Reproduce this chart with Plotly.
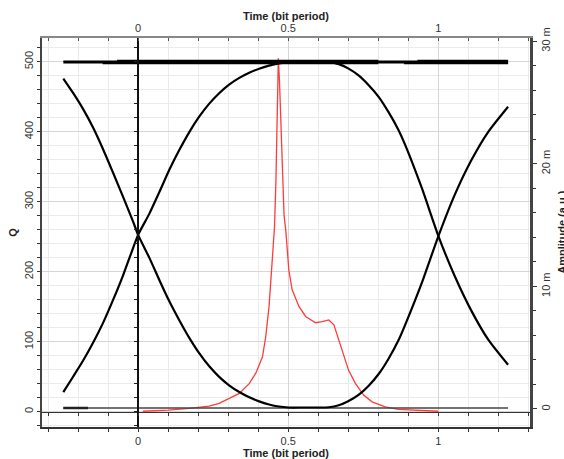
import plotly.graph_objects as go

# ---- Eye traces (amplitude, in milli a.u.) ----
eye_t = [-0.249, -0.216, -0.183, -0.150, -0.117, -0.084, -0.050, -0.017, 0.0,
         0.038, 0.071, 0.104, 0.138, 0.171, 0.204, 0.237, 0.270, 0.303, 0.337,
         0.370, 0.403, 0.436, 0.469, 0.500, 0.550, 0.600, 0.635, 0.668, 0.701,
         0.734, 0.768, 0.801, 0.834, 0.867, 0.890, 0.945, 1.000, 1.055, 1.110,
         1.166, 1.232]

# Trace that starts high, drops through the first crossing, sits low, then rises again
eye_a_v = [26.94, 25.75, 24.45, 22.95, 21.2, 19.3, 17.3, 15.3, 14.2,
           12.3, 10.5, 8.78, 7.2, 5.78, 4.53, 3.48, 2.62, 1.93, 1.38,
           0.95, 0.62, 0.37, 0.2, 0.12, 0.12, 0.12, 0.14, 0.3, 0.65,
           1.15, 1.9, 2.85, 4.1, 5.6, 6.9, 10.3, 14.1, 17.5, 20.3,
           22.6, 24.65]

# Trace that starts low, rises through the first crossing, sits high, then falls again
eye_b_v = [1.38, 2.65, 3.95, 5.4, 7.0, 8.85, 10.9, 13.1, 14.2,
           15.95, 17.7, 19.5, 21.15, 22.6, 23.85, 24.9, 25.75, 26.45, 27.0,
           27.42, 27.75, 28.0, 28.18, 28.28, 28.3, 28.3, 28.28, 28.12, 27.75,
           27.2, 26.4, 25.45, 24.2, 22.75, 21.5, 18.0, 14.1, 10.8, 8.0,
           5.65, 3.6]

# Constant "ones" and "zeros" rails
rail_hi_t = [-0.249, 1.232]
rail_hi_v = [28.3, 28.3]
rail_hi2_t = [-0.118, 0.80, None, 0.885, 1.232]
rail_hi2_v = [28.2, 28.2, None, 28.2, 28.2]
rail_hi3_t = [-0.07, 0.80, None, 0.93, 1.232]
rail_hi3_v = [28.4, 28.4, None, 28.4, 28.4]
rail_lo_t = [-0.249, 1.232]
rail_lo_v = [0.08, 0.08]
rail_lo2_t = [-0.249, -0.167]
rail_lo2_v = [0.08, 0.08]

# ---- Q factor versus sampling time ----
q_t = [0.016, 0.10, 0.171, 0.237, 0.270, 0.303, 0.337, 0.370, 0.392, 0.414,
       0.425, 0.436, 0.442, 0.449, 0.454, 0.459, 0.463, 0.467, 0.471, 0.476,
       0.481, 0.486, 0.492, 0.497, 0.502, 0.513, 0.536, 0.558, 0.591, 0.613,
       0.635, 0.652, 0.668, 0.685, 0.701, 0.724, 0.751, 0.779, 0.823, 0.867,
       0.934, 1.0]
q_v = [0.5, 2, 4.6, 7.9, 11.7, 18.9, 26, 40, 55, 78,
       107, 150, 188, 236, 262, 330, 430, 505, 470, 400,
       330, 281, 258, 231, 202, 174, 150, 136, 127, 128.5,
       131, 124, 102, 78, 59, 40, 23.6, 14, 6.9, 3.1,
       2.1, 0.5]

# Axis settings
x_range = [-0.32, 1.305]
q_range = [-22, 534]
amp_range = [-1.47, 30.25]
amp_ticks = [0, 10, 20, 30]
amp_labels = ["0", "10 m", "20 m", "30 m"]
time_title = "Time (bit period)"

FONT = "Liberation Sans, Arial, sans-serif"
tickfont = dict(family=FONT, size=11, color="#333333")
titlefont = dict(family=FONT, size=11, color="#222222")

fig = go.Figure()


def eye_line(x, y, color="black", width=2.0, shape="linear"):
    fig.add_trace(go.Scatter(x=x, y=y, mode="lines",
                             line=dict(color=color, width=width, shape=shape, smoothing=0.6),
                             xaxis="x2", yaxis="y2", hoverinfo="skip"))


eye_line(rail_hi_t, rail_hi_v, width=3)
eye_line(rail_hi2_t, rail_hi2_v, width=2.2)
eye_line(rail_hi3_t, rail_hi3_v, width=2)
eye_line(rail_lo_t, rail_lo_v, color="#444444", width=1.4)
eye_line(rail_lo2_t, rail_lo2_v, color="#222222", width=2.5)
eye_line(eye_t, eye_a_v, width=2.2, shape="spline")
eye_line(eye_t, eye_b_v, width=2.2, shape="spline")

fig.add_trace(go.Scatter(x=q_t, y=q_v, mode="lines", line=dict(color="#ff3b3b", width=1.3),
                         xaxis="x", yaxis="y", hoverinfo="skip"))

# empty trace so the origin axes (t = 0, Q = 0) get drawn
fig.add_trace(go.Scatter(x=[], y=[], xaxis="x3", yaxis="y3", hoverinfo="skip"))

t0_pos = (0 - x_range[0]) / (x_range[1] - x_range[0])
q0_pos = (0 - q_range[0]) / (q_range[1] - q_range[0])

fig.update_layout(
    width=564, height=459,
    margin=dict(l=42, r=32, t=38, b=32),
    plot_bgcolor="white", paper_bgcolor="white",
    showlegend=False,
    xaxis=dict(range=x_range, tick0=0, dtick=0.5, showgrid=True, gridcolor="#d6d6d6", gridwidth=1,
               minor=dict(tick0=0, dtick=0.1, showgrid=True, gridcolor="#ebebeb", gridwidth=1,
                          ticks="outside", ticklen=3, tickcolor="#333333"),
               ticks="outside", ticklen=3, tickcolor="#333333",
               showline=True, linecolor="#333333", linewidth=2, zeroline=False,
               tickfont=tickfont, anchor="y"),
    yaxis=dict(range=q_range, tick0=0, dtick=100, showgrid=True, gridcolor="#d6d6d6", gridwidth=1,
               minor=dict(tick0=0, dtick=20, showgrid=True, gridcolor="#ebebeb", gridwidth=1,
                          ticks="outside", ticklen=3, tickcolor="#333333"),
               ticks="outside", ticklen=3, tickcolor="#333333", tickangle=-90,
               showline=True, linecolor="#444444", linewidth=2, zeroline=False,
               tickfont=tickfont, anchor="x"),
    xaxis2=dict(range=x_range, overlaying="x", side="top", anchor="y2", tick0=0, dtick=0.5,
                showgrid=False, zeroline=False,
                minor=dict(tick0=0, dtick=0.1, ticks="inside", ticklen=3, tickcolor="#555555"),
                ticks="inside", ticklen=3, tickcolor="#555555",
                showline=True, linecolor="#888888", linewidth=1.5, tickfont=tickfont),
    yaxis2=dict(range=amp_range, overlaying="y", side="right", anchor="x2",
                tickmode="array", tickvals=amp_ticks, ticktext=amp_labels, tickangle=-90,
                showgrid=False, zeroline=False,
                minor=dict(tickmode="linear", tick0=0, dtick=2, ticks="outside", ticklen=3,
                           tickcolor="#333333"),
                ticks="outside", ticklen=4, tickcolor="#333333",
                showline=True, linecolor="#444444", linewidth=2.5, tickfont=tickfont),
    xaxis3=dict(range=x_range, overlaying="x", anchor="free", position=q0_pos,
                showgrid=False, zeroline=False, showticklabels=False,
                tick0=0, dtick=0.1, ticks="outside", ticklen=3, tickcolor="#333333",
                showline=True, linecolor="#333333", linewidth=1.2),
    yaxis3=dict(range=q_range, overlaying="y", anchor="free", position=t0_pos,
                showgrid=False, zeroline=False, showticklabels=False,
                tick0=0, dtick=20, ticks="outside", ticklen=3, tickcolor="#222222",
                showline=True, linecolor="#111111", linewidth=1.5),
    annotations=[
        dict(text="<b>" + time_title + "</b>", xref="paper", yref="paper", x=0.5, y=1.0566,
             showarrow=False, font=titlefont, xanchor="center", yanchor="middle"),
        dict(text="<b>" + time_title + "</b>", xref="paper", yref="paper", x=0.5, y=-0.067,
             showarrow=False, font=titlefont, xanchor="center", yanchor="middle"),
        dict(text="<b>Q</b>", xref="paper", yref="paper", x=-0.0612, y=0.5, textangle=-90,
             showarrow=False, font=titlefont, xanchor="center", yanchor="middle"),
        dict(text="<b>Amplitude (a.u.)</b>", xref="paper", yref="paper", x=1.064, y=0.5,
             textangle=-90, showarrow=False, font=titlefont, xanchor="center", yanchor="middle"),
    ],
)

fig.write_html("out.html")
